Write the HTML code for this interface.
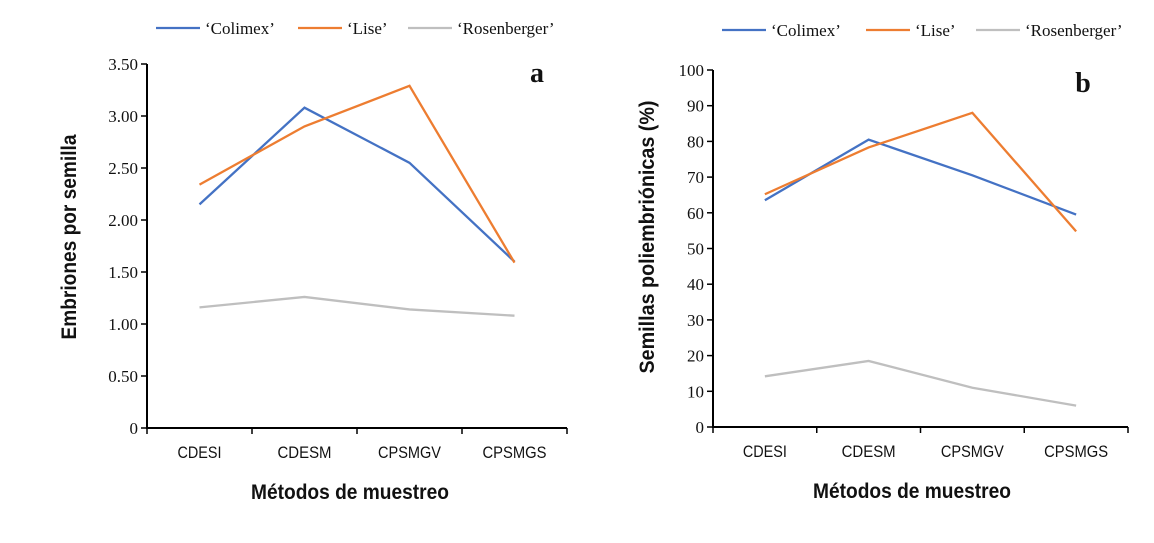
<!DOCTYPE html>
<html><head><meta charset="utf-8"><style>
body{margin:0;background:#fff;width:1154px;height:538px;overflow:hidden}
svg text{fill:#111}
.tk{font-family:"Liberation Serif",serif;font-size:17px}
.cat{font-family:"Liberation Sans",sans-serif;font-size:17px}
.ttl{font-family:"Liberation Sans",sans-serif;font-size:21px;font-weight:bold}
.leg{font-family:"Liberation Serif",serif;font-size:17px}
.pl{font-family:"Liberation Serif",serif;font-size:28px;font-weight:bold}
</style></head><body>
<svg id="c" width="1154" height="538"></svg>
<script>
const categories=["CDESI","CDESM","CPSMGV","CPSMGS"];
const seriesNames=["‘Colimex’","‘Lise’","‘Rosenberger’"];
const colors=["#4472c4","#ed7d31","#bfbfbf"];
const aColimex=[2.15,3.08,2.55,1.60];
const aLise=[2.34,2.90,3.29,1.59];
const aRosen=[1.16,1.26,1.14,1.08];
const aTicks=["0","0.50","1.00","1.50","2.00","2.50","3.00","3.50"];
const bColimex=[63.5,80.5,70.5,59.5];
const bLise=[65.2,78.3,88,54.8];
const bRosen=[14.2,18.5,11,6];
const bTicks=["0","10","20","30","40","50","60","70","80","90","100"];
const catWidths=[44,54,63,64];

const NS="http://www.w3.org/2000/svg";
const svg=document.getElementById('c');
function mk(t,a,txt){const e=document.createElementNS(NS,t);for(const k in a)e.setAttribute(k,a[k]);if(txt!==undefined)e.textContent=txt;svg.appendChild(e);return e;}

function panel(p){
  const yS=v=>p.y0-(v/p.max)*(p.y0-p.y1);
  const w=(p.x1-p.x0)/categories.length;
  const xS=i=>p.x0+w*(i+0.5);
  let e=mk('line',{x1:p.x0,y1:p.y1,x2:p.x0,y2:p.y0+1,stroke:'#000','stroke-width':2});
  
  e=mk('line',{x1:p.x0-1,y1:p.y0,x2:p.x1,y2:p.y0,stroke:'#000','stroke-width':2});
  
  p.ticks.forEach(t=>{const v=parseFloat(t);const y=yS(v);
    mk('line',{x1:p.x0-6,y1:y,x2:p.x0,y2:y,stroke:'#000','stroke-width':1.5});
    e=mk('text',{x:p.x0-9,y:y+6,'text-anchor':'end',class:'tk'},t);
    });
  for(let i=0;i<=categories.length;i++){const x=p.x0+w*i;mk('line',{x1:x,y1:p.y0,x2:x,y2:p.y0+6,stroke:'#000','stroke-width':1.5});}
  categories.forEach((c,i)=>{e=mk('text',{x:xS(i)-catWidths[i]/2,y:p.y0+30,class:'cat',textLength:catWidths[i],lengthAdjust:'spacingAndGlyphs'},c);
    });
  p.series.forEach((s,k)=>{const pts=s.map((v,i)=>xS(i)+','+yS(v)).join(' ');
    e=mk('polyline',{points:pts,fill:'none',stroke:colors[k],'stroke-width':2.3});
    });
  e=mk('text',{x:p.xtx-99,y:p.y0+71,class:'ttl',textLength:198,lengthAdjust:'spacingAndGlyphs'},'Métodos de muestreo');
  
  e=mk('text',{x:-p.ylen/2,y:0,class:'ttl',textLength:p.ylen,lengthAdjust:'spacingAndGlyphs',transform:`translate(${p.ytx},${p.yty}) rotate(-90)`},p.ytitle);
  
  e=mk('text',{x:p.lx,y:p.ly,'text-anchor':'middle',class:'pl'},p.id);
  
  seriesNames.forEach((n,k)=>{const lx=p.legX[k];
    e=mk('line',{x1:lx,y1:p.legY,x2:lx+44,y2:p.legY,stroke:colors[k],'stroke-width':2.3});
    
    e=mk('text',{x:lx+49,y:p.legY+6,class:'leg'},n);
    });
}
panel({id:'a',x0:147,x1:567,y0:428,y1:64,max:3.5,ticks:aTicks,series:[aColimex,aLise,aRosen],
  ytitle:'Embriones por semilla',ylen:205,ytx:76,yty:237,xtx:350,lx:537,ly:82,legX:[156,298,408],legY:28});
panel({id:'b',x0:713,x1:1128,y0:427,y1:70,max:100,ticks:bTicks,series:[bColimex,bLise,bRosen],
  ytitle:'Semillas poliembriónicas (%)',ylen:273,ytx:654,yty:237,xtx:912,lx:1083,ly:92,legX:[722,866,976],legY:30});
</script>
</body></html>
